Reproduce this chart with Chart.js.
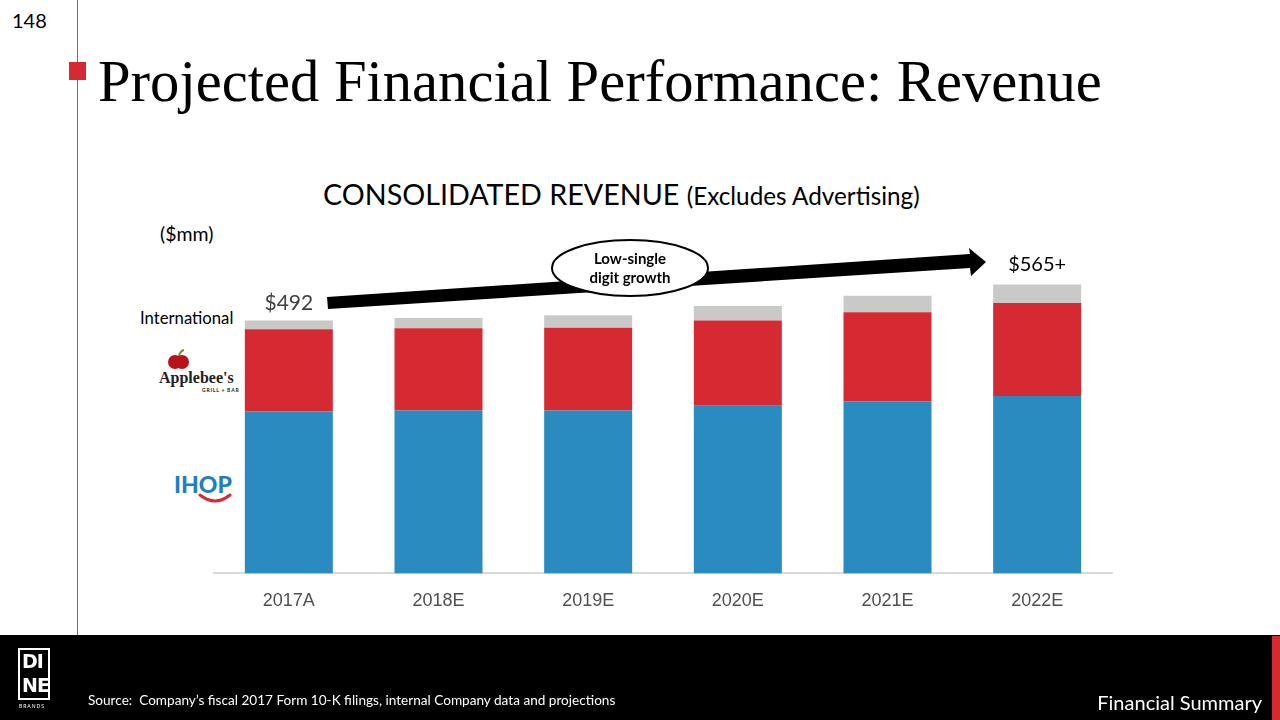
<!DOCTYPE html>
<html>
<head>
<meta charset="utf-8">
<script src="https://cdn.jsdelivr.net/npm/chart.js@4"></script>
<style>
  html, body { margin: 0; padding: 0; background: #fff; }
  #page { position: relative; width: 1280px; height: 720px; overflow: hidden; font-family: Lato, "Open Sans", sans-serif; }
  #chartone { position: absolute; left: 0; top: 0; }
  .abs { position: absolute; white-space: nowrap; }
  #footer { position: absolute; left: 0; top: 635px; width: 1280px; height: 85px; background: #000; }
</style>
</head>
<body>
<div id="page">
  <div class="abs" style="left:77px;top:0;width:1px;height:635px;background:#c0504d;"></div>
  <div class="abs" style="left:69px;top:62px;width:17px;height:18px;background:#d62a32;"></div>
  <div class="abs" style="left:12px;top:8px;font-size:20px;color:#000;">148</div>
  <div id="title" class="abs" style="left:98px;top:48px;font-family:'Liberation Serif',serif;font-size:60px;color:#000;">Projected Financial Performance: Revenue</div>

  <div class="abs" style="left:323px;top:177px;font-size:28.7px;color:#000;">CONSOLIDATED REVENUE <span style="font-size:24.3px;">(Excludes Advertising)</span></div>
  <div class="abs" style="left:160px;top:222px;font-size:19.5px;color:#000;">($mm)</div>
  <div class="abs" style="left:140px;top:308px;font-size:16.7px;color:#000;">International</div>

  <!-- Applebee's mark -->
  <svg class="abs" style="left:152px;top:348px;" width="90" height="50">
    <path d="M27 8 Q28 3 32 2" stroke="#6a9a2a" stroke-width="2" fill="none"/>
    <circle cx="23" cy="14" r="7" fill="#b8121b"/>
    <circle cx="30" cy="14" r="7" fill="#b8121b"/>
    <text x="7" y="35" font-family="'Liberation Serif',serif" font-weight="bold" font-size="16" fill="#222">Applebee's</text>
    <text x="50" y="44" font-family="Lato,sans-serif" font-size="5" font-weight="bold" fill="#222" letter-spacing="0.8">GRILL + BAR</text>
  </svg>

  <!-- IHOP mark -->
  <svg class="abs" style="left:170px;top:470px;" width="70" height="34">
    <text x="4" y="23" font-family="Lato,sans-serif" font-weight="900" font-size="23" fill="#1f7fc4">IHOP</text>
    <path d="M30 25 Q45 37 60 25" stroke="#d62a32" stroke-width="3" fill="none" stroke-linecap="round"/>
  </svg>

  <canvas id="chartone" width="1280" height="720"></canvas>

  <!-- growth arrow and callout -->
  <svg class="abs" style="left:0;top:0;" width="1280" height="720">
    <polygon points="327,297 970,254 969,248 986,262 971,276 970,268 328,309" fill="#000"/>
    <ellipse cx="630" cy="268" rx="78" ry="28" fill="#fff" stroke="#000" stroke-width="2"/>
    <text x="630" y="264" text-anchor="middle" font-family="Lato,sans-serif" font-weight="bold" font-size="15" fill="#000">Low-single</text>
    <text x="630" y="283" text-anchor="middle" font-family="Lato,sans-serif" font-weight="bold" font-size="15" fill="#000">digit growth</text>
  </svg>

  <div id="footer">
    <div class="abs" style="left:18px;top:13px;width:28px;height:48px;border:2px solid #fff;"></div>
    <div class="abs" style="left:22px;top:14px;font-family:'DejaVu Sans',sans-serif;font-weight:bold;font-size:19px;line-height:24px;color:#fff;letter-spacing:-1px;">DI<br>NE</div>
    <div class="abs" style="left:19px;top:68px;font-size:5px;color:#fff;letter-spacing:1px;">BRANDS</div>
    <div class="abs" style="left:88px;top:57px;font-size:13.6px;color:#fff;">Source:&nbsp; Company’s fiscal 2017 Form 10-K filings, internal Company data and projections</div>
    <div class="abs" style="right:18px;top:55px;font-size:20px;color:#fff;">Financial Summary</div>
    <div class="abs" style="left:1272px;top:1px;width:8px;height:84px;background:#d62a32;"></div>
  </div>
</div>

<script>
// fit the title to its width in the slide
const title = document.getElementById('title');
title.style.fontSize = (60 * 1004 / title.getBoundingClientRect().width) + 'px';

const categories = ['2017A', '2018E', '2019E', '2020E', '2021E', '2022E'];
const ihop = [315, 317, 317, 326, 335, 345];
const applebees = [160, 160, 161, 166, 173, 181];
const international = [17, 20, 24, 28, 32, 36];
const totalLabels = ['$492', '', '', '', '', '$565+'];

const totalsPlugin = {
  id: 'totals',
  afterDatasetsDraw(chart) {
    const ctx = chart.ctx;
    const top = chart.getDatasetMeta(2).data;
    ctx.save();
    ctx.textAlign = 'center';
    ctx.textBaseline = 'alphabetic';
    totalLabels.forEach((lbl, i) => {
      if (!lbl) return;
      const bar = top[i];
      ctx.font = i === 0 ? '21px Lato, sans-serif' : '20px Lato, sans-serif';
      ctx.fillStyle = i === 0 ? '#404040' : '#000';
      ctx.fillText(lbl, bar.x, bar.y - (i === 0 ? 11 : 14));
    });
    ctx.restore();
  }
};

const ctx = document.getElementById('chartone').getContext('2d');
new Chart(ctx, {
  type: 'bar',
  data: {
    labels: categories,
    datasets: [
      { label: 'IHOP', data: ihop, backgroundColor: '#2a8bc0' },
      { label: "Applebee's", data: applebees, backgroundColor: '#d62a32' },
      { label: 'International', data: international, backgroundColor: '#c9cac8' },
    ],
  },
  options: {
    responsive: false,
    animation: false,
    events: [],
    layout: { padding: { left: 214, right: 168, top: 265, bottom: 99 } },
    plugins: { legend: { display: false }, tooltip: { enabled: false } },
    datasets: { bar: { categoryPercentage: 1, barPercentage: 0.588, borderWidth: 0 } },
    scales: {
      x: {
        stacked: true,
        grid: { display: false },
        border: { display: true, color: '#d9d9d9', width: 2 },
        ticks: { color: '#505050', padding: 9, font: { family: "'Liberation Sans Narrow', 'Liberation Sans', sans-serif", size: 18 } },
      },
      y: { stacked: true, display: false, min: 0, max: 600 },
    },
  },
  plugins: [totalsPlugin],
});
</script>
</body>
</html>
